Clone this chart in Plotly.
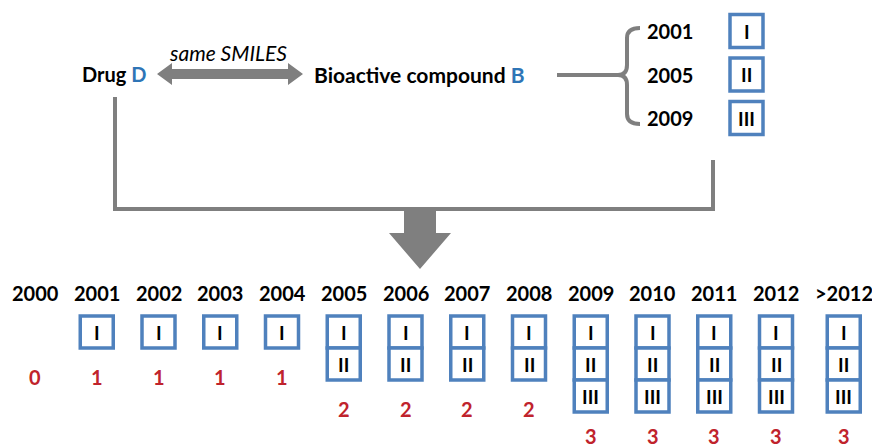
import plotly.graph_objects as go

# timeline data
years = ["2000", "2001", "2002", "2003", "2004", "2005", "2006",
         "2007", "2008", "2009", "2010", "2011", "2012", ">2012"]
counts = [0, 1, 1, 1, 1, 2, 2, 2, 2, 3, 3, 3, 3, 3]
numerals = ["I", "II", "III"]
release_years = ["2001", "2005", "2009"]

GRAY = "#7f7f7f"
BLUE = "#4f81bd"
TXTBLUE = "#2e75b6"
RED = "#c0232c"
FONT = "Lato, 'Open Sans', sans-serif"

fig = go.Figure()
shapes = []
ann = []


def cell(xc, ytop, h, label, size=19):
    shapes.append(dict(type="rect", x0=xc - 16.5, x1=xc + 16.5, y0=ytop, y1=ytop + h,
                       line=dict(color=BLUE, width=3.5), fillcolor="white", layer="above"))
    ann.append(dict(x=xc, y=ytop + h / 2, text="<b>%s</b>" % label, showarrow=False,
                    font=dict(size=size, color="black", family=FONT)))


# top row: drug / bioactive compound
ann.append(dict(x=114, y=74, text="<b>Drug <span style='color:%s'>D</span></b>" % TXTBLUE,
                showarrow=False, font=dict(size=20, color="black", family=FONT)))
ann.append(dict(x=419, y=74,
                text="<b>Bioactive compound <span style='color:%s'>B</span></b>" % TXTBLUE,
                showarrow=False, font=dict(size=21, color="black", family=FONT)))
ann.append(dict(x=228, y=52, text="<i>same SMILES</i>", showarrow=False,
                font=dict(size=21, color="black", family=FONT)))

# double arrow
shapes.append(dict(type="path",
                   path="M157,74 L172,63 L172,69 L288,69 L288,63 L303,74 L288,85 L288,79 L172,79 L172,85 Z",
                   fillcolor=GRAY, line=dict(width=0)))

# line to brace and brace
shapes.append(dict(type="line", x0=557, x1=620, y0=75, y1=75, line=dict(color=GRAY, width=4)))
shapes.append(dict(type="path",
                   path="M640,28 Q627,28 627,38 L627,65 Q627,75 618,75 Q627,75 627,85 L627,114 Q627,124 640,124",
                   line=dict(color=GRAY, width=4)))

for i, (yr, nm) in enumerate(zip(release_years, numerals)):
    yc = 31 + i * 43.5
    ann.append(dict(x=670, y=yc, text="<b>%s</b>" % yr, showarrow=False,
                    font=dict(size=20, color="black", family=FONT)))
    cell(746.5, yc - 16.5, 33, nm)

# connector and big down arrow
shapes.append(dict(type="path", path="M115,97 L115,209 L713,209 L713,160",
                   line=dict(color=GRAY, width=4)))
shapes.append(dict(type="path",
                   path="M404,209 L436,209 L436,233 L451,233 L420,269 L389,233 L404,233 Z",
                   fillcolor=GRAY, line=dict(width=0)))

# timeline
for i, (yr, n) in enumerate(zip(years, counts)):
    xc = 35 + 61.75 * i + (6 if yr.startswith(">") else 0)
    ann.append(dict(x=xc, y=293, text="<b>%s</b>" % yr, showarrow=False,
                    font=dict(size=20, color="black", family=FONT)))
    for k in range(n):
        cell(xc, 316 + 32 * k, 32, numerals[k])
    ann.append(dict(x=xc, y=min(316 + 32 * max(n, 1) + 29, 436), text="<b>%d</b>" % n,
                    showarrow=False, font=dict(size=20, color=RED, family=FONT)))

fig.update_layout(
    width=872, height=447, margin=dict(l=0, r=0, t=0, b=0),
    plot_bgcolor="white", paper_bgcolor="white",
    xaxis=dict(range=[0, 872], visible=False, fixedrange=True),
    yaxis=dict(range=[447, 0], visible=False, fixedrange=True),
    shapes=shapes, annotations=ann, showlegend=False,
)
fig.write_html("out.html", config={"displayModeBar": False},
               post_script="document.body.style.margin='0';")
